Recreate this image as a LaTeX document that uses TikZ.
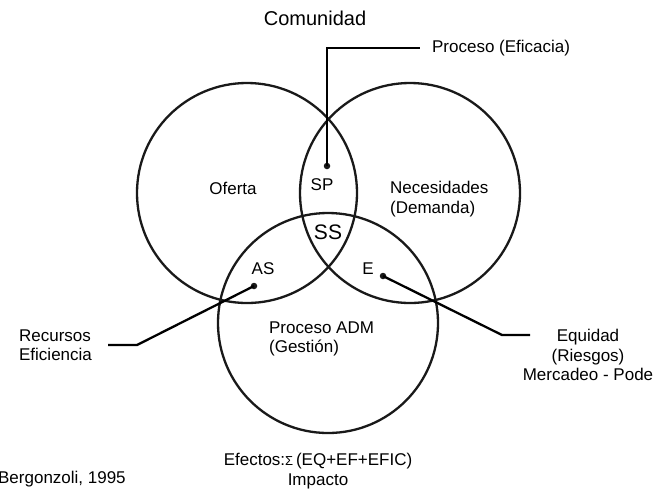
\documentclass[tikz,border=0pt]{standalone}
\usepackage{fontspec}
\setmainfont{Liberation Sans}

\begin{document}
\begin{tikzpicture}[x=1pt, y=-1pt, line width=2.3pt]
        \tikzstyle{ring}=[circle,draw=black!90,minimum size=220pt,inner sep=0pt]
        \tikzstyle{txt}=[inner sep=0pt, font=\fontsize{17}{19.5}\selectfont, align=left]
        \tikzstyle{dot}=[circle,fill=black!90,minimum size=6.5pt,inner sep=0pt]
        \useasboundingbox (0,0) rectangle (655,491);

        % the three circles
        \node[ring] (oferta) at (247,193) {};
        \node[ring] (necesidades) at (410,193) {};
        \node[ring] (gestion) at (328,323) {};

        % labels
        \node[txt, font=\fontsize{20}{22}\selectfont] (comunidad) at (315,18) {Comunidad};
        \node[txt] (ofertalbl) at (233,188) {Oferta};
        \node[txt, anchor=west] (necesidadeslbl) at (389,199) {Necesidades\\(Demanda)};
        \node[txt] (sp) at (322,185) {SP};
        \node[txt, font=\fontsize{21}{22}\selectfont] (ss) at (328,232) {SS};
        \node[txt] (as) at (263,269) {AS};
        \node[txt] (e) at (368,269) {E};
        \node[txt, anchor=west] (gestionlbl) at (268,339) {Proceso ADM\\(Gestión)};
        \node[txt, anchor=west, inner xsep=11pt] (proceso) at (420,48) {Proceso (Eficacia)};
        \node[txt, anchor=west] (recursos) at (18,345) {Recursos\\Eficiencia};
        \node[txt, align=center] (equidad) at (588,355) {Equidad\\(Riesgos)\\Mercadeo - Pode};
        \node[txt, align=center] (efectos) at (318,471) {Efectos:{\fontsize{13}{13}\selectfont Σ}\,(EQ+EF+EFIC)\\Impacto};
        \node[txt, anchor=west] (fuente) at (-3,479) {Bergonzoli, 1995};

        % dots and leaders
        \node[dot] (spdot) at (327,166) {};
        \node[dot] (asdot) at (254,286) {};
        \node[dot] (edot) at (383,276) {};
        \coordinate (asbend) at (137,345);
        \coordinate (asend) at (108,345);
        \coordinate (ebend) at (502,335);
        \coordinate (eend) at (530,335);

        \draw (spdot.center) |- (proceso.west);
        \draw (asdot.center) -- (asbend) -- (asend);
        \draw (edot.center) -- (ebend) -- (eend);
    \end{tikzpicture}
\end{document}
